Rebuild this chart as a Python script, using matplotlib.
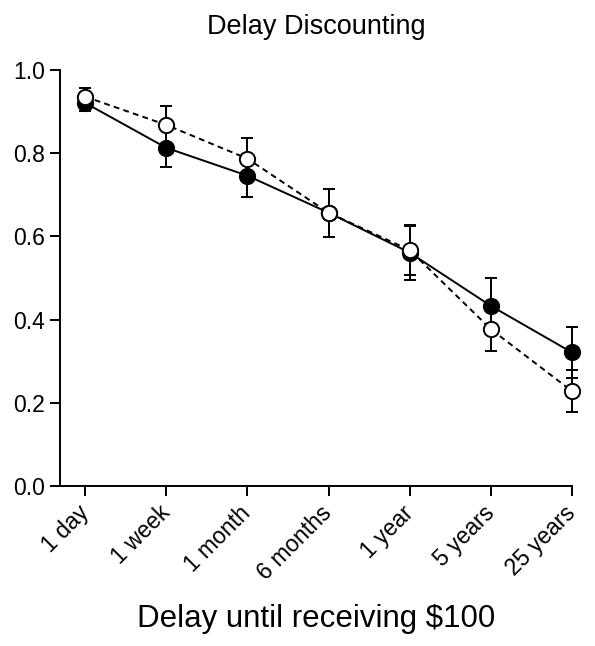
import numpy as np
import matplotlib.pyplot as plt

plt.rcParams['font.family'] = ['Liberation Sans', 'DejaVu Sans']

delays = ["1 day", "1 week", "1 month", "6 months", "1 year", "5 years", "25 years"]

# group 1 (filled markers, solid line)
filled_mean = [0.921, 0.813, 0.746, 0.657, 0.561, 0.433, 0.321]
filled_err = [0.020, 0.047, 0.051, 0.058, 0.065, 0.067, 0.062]

# group 2 (open markers, dashed line)
open_mean = [0.936, 0.868, 0.787, 0.657, 0.567, 0.377, 0.228]
open_err = [0.021, 0.046, 0.050, 0.058, 0.060, 0.052, 0.051]

x = np.arange(len(delays))

fig = plt.figure(figsize=(5.95, 6.46), dpi=100)
ax = fig.add_axes([0.1008, 0.2477, 0.8605, 0.6439])

groups = [
    (filled_mean, filled_err, '-', 'black', 3),
    (open_mean, open_err, (0, (3, 2.2)), 'white', 4),
]
for mean, err, ls, face, z in groups:
    line, caps, bars = ax.errorbar(
        x, mean, yerr=err, color='black', linestyle=ls,
        linewidth=1.4, capsize=4, capthick=1.4, elinewidth=1.4,
        marker='o', markersize=11, markerfacecolor=face,
        markeredgecolor='black', markeredgewidth=1.4, zorder=z)
    for artist in [line, *caps, *bars]:
        artist.set_clip_on(False)

ax.set_xlim(-0.31, 6)
ax.set_ylim(0, 1.0)
ax.set_yticks([0.0, 0.2, 0.4, 0.6, 0.8, 1.0])
ax.set_yticklabels(["0.0", "0.2", "0.4", "0.6", "0.8", "1.0"])
ax.set_xticks(x)
ax.set_xticklabels(delays, rotation=45, ha='right', va='center',
                   rotation_mode='anchor')

for side in ['top', 'right']:
    ax.spines[side].set_visible(False)
for side in ['left', 'bottom']:
    ax.spines[side].set_linewidth(1.4)
ax.tick_params(axis='both', direction='out', length=7, width=1.4,
               labelsize=16.5, pad=4)
ax.tick_params(axis='x', pad=10)

ax.set_title("Delay Discounting", fontsize=19.5, pad=26)
ax.set_xlabel("Delay until receiving $100", fontsize=22.5, labelpad=14)

fig.savefig("out.png", dpi=100, facecolor='white')
